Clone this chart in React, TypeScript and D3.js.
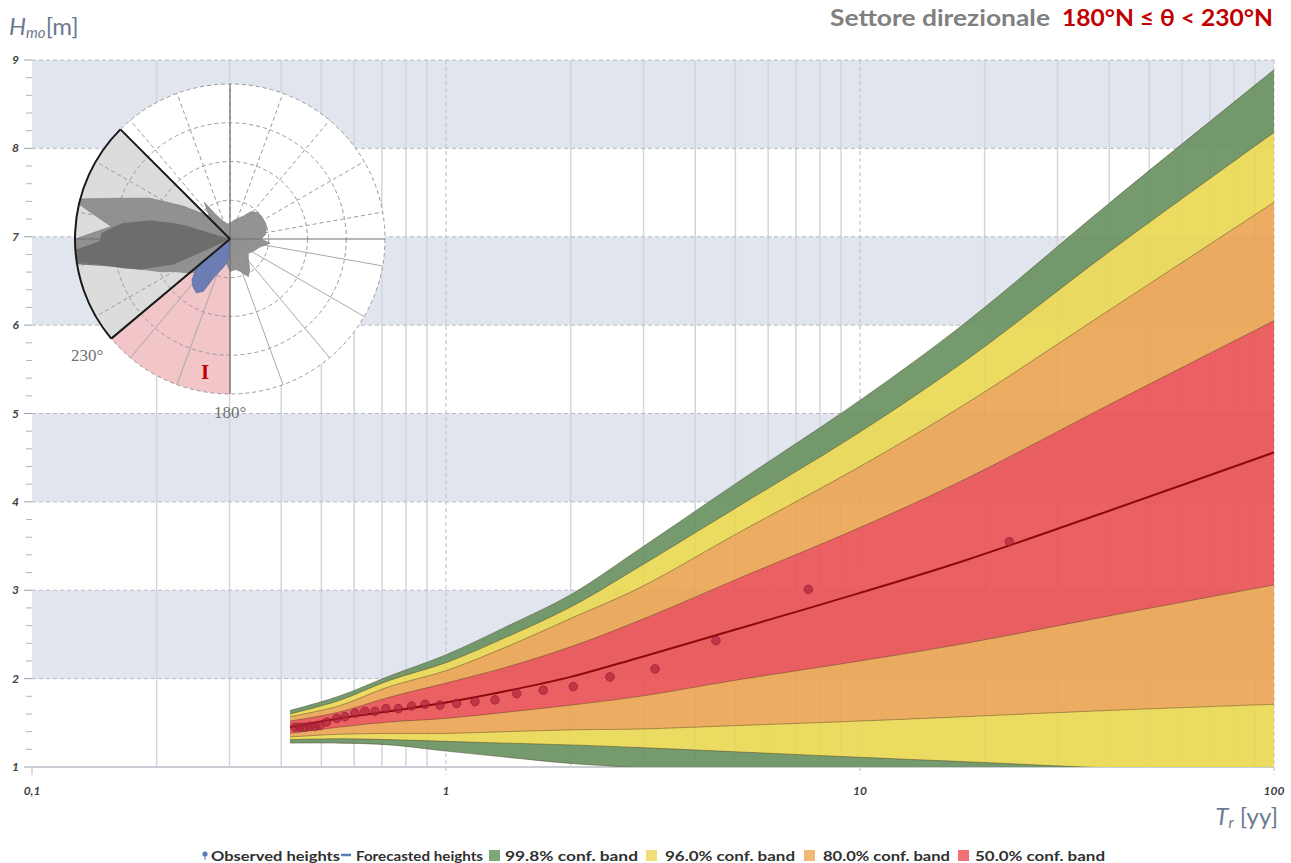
import React from 'react';
import * as d3 from 'd3';

// ---------- data ----------
const trGrid = [0.42, 0.55, 0.73, 1.0, 1.4, 2.0, 2.94, 5.13, 10, 18, 40, 100];
const upper998 = [1.64, 1.80, 2.03, 2.27, 2.59, 2.95, 3.47, 4.24, 5.15, 6.03, 7.38, 8.89];
const upper96 = [1.60, 1.75, 1.98, 2.18, 2.47, 2.81, 3.27, 3.96, 4.79, 5.60, 6.83, 8.18];
const upper80 = [1.57, 1.69, 1.91, 2.09, 2.36, 2.68, 3.03, 3.66, 4.40, 5.11, 6.17, 7.39];
const upper50 = [1.52, 1.62, 1.79, 1.95, 2.13, 2.36, 2.66, 3.14, 3.71, 4.26, 5.10, 6.05];
const median = [1.45, 1.55, 1.63, 1.73, 1.86, 2.02, 2.24, 2.57, 2.97, 3.34, 3.90, 4.56];
const lower50 = [1.38, 1.45, 1.51, 1.55, 1.62, 1.70, 1.80, 1.99, 2.20, 2.40, 2.71, 3.06];
const lower80 = [1.34, 1.37, 1.38, 1.38, 1.40, 1.42, 1.43, 1.47, 1.52, 1.57, 1.64, 1.71];
const lower96 = [1.31, 1.32, 1.31, 1.29, 1.27, 1.25, 1.22, 1.17, 1.11, 1.06, 0.99, 0.95];
const lower998 = [1.27, 1.27, 1.25, 1.18, 1.11, 1.04, 0.99, 0.90, 0.80, 0.72, 0.62, 0.50];

const obsTr = [0.432, 0.444, 0.456, 0.469, 0.483, 0.496, 0.515, 0.545, 0.570, 0.603, 0.637, 0.674, 0.716, 0.767,
  0.826, 0.890, 0.967, 1.061, 1.175, 1.313, 1.482, 1.718, 2.030, 2.489, 3.198, 4.488, 7.50, 22.94];
const obsH = [1.45, 1.45, 1.45, 1.46, 1.46, 1.47, 1.51, 1.55, 1.57, 1.61, 1.63, 1.63, 1.66, 1.66,
  1.69, 1.71, 1.70, 1.72, 1.74, 1.76, 1.83, 1.87, 1.91, 2.02, 2.11, 2.43, 3.01, 3.55];

const yTickValues = [1, 2, 3, 4, 5, 6, 7, 8, 9];
const xTickValues = [0.1, 1, 10, 100];
const xTickLabels = ['0,1', '1', '10', '100'];

const legendLabels = ['Observed heights', 'Forecasted heights', '99.8% conf. band', '96.0% conf. band', '80.0% conf. band', '50.0% conf. band'];

// wave rose (bearing in degrees, radius as fraction of rose radius)
const roseOuterDeg = [0, 10, 20, 30, 37, 47, 58, 71, 83, 90, 96, 105, 118, 128, 136, 148, 154, 162, 170, 180, 190, 200, 215, 225, 230,
  240, 245, 250, 255, 258, 262, 270, 276, 283, 285, 290, 297, 305, 311, 318, 325, 330, 340, 350];
const roseOuterR = [0.10, 0.12, 0.14, 0.17, 0.22, 0.25, 0.25, 0.25, 0.23, 0.20, 0.26, 0.20, 0.17, 0.15, 0.17, 0.24, 0.27, 0.22, 0.20, 0.21, 0.15, 0.18, 0.25, 0.30, 0.34,
  0.42, 0.50, 0.58, 0.72, 0.81, 1.0, 1.0, 0.77, 1.0, 1.0, 0.77, 0.58, 0.37, 0.26, 0.20, 0.29, 0.18, 0.12, 0.10];
const roseDarkDeg = [0, 287, 285.8, 283, 278.5, 272.7, 269, 266, 260.6, 257.5, 251.2, 245.6, 245];
const roseDarkR = [0, 0.30, 0.38, 0.53, 0.70, 0.83, 0.84, 1.0, 1.0, 0.81, 0.61, 0.40, 0.17];
const roseBlueDeg = [180, 183, 188, 195, 202, 207, 212, 218, 223, 228, 230, 230];
const roseBlueR = [0, 0.12, 0.16, 0.20, 0.26, 0.38, 0.41, 0.39, 0.36, 0.30, 0.22, 0];

const sectorFrom = 180;
const sectorTo = 230;
const greyTo = 315;

// ---------- layout ----------
const W = 1291;
const H = 863;
const L = 32, R = 1274, T = 60, B = 767;
const FONT = 'Lato, "Open Sans", "DejaVu Sans", sans-serif';

const x = d3.scaleLog().domain([0.1, 100]).range([L, R]);
const y = d3.scaleLinear().domain([1, 9]).range([B, T]);
const curve = d3.curveCatmullRom.alpha(0.5);

const bandPath = (lo: number[], hi: number[]) =>
  d3.area<number>()
    .x((t) => x(t))
    .y0((_, i) => y(lo[i]))
    .y1((_, i) => y(hi[i]))
    .curve(curve)(trGrid) as string;

const linePath = (arr: number[]) =>
  d3.line<number>()
    .x((t) => x(t))
    .y((_, i) => y(arr[i]))
    .curve(curve)(trGrid) as string;

const rad = (d: number) => (d * Math.PI) / 180;

export default function App() {
  const minorX: number[] = [];
  [0.1, 1, 10].forEach((d) => {
    for (let k = 2; k <= 9; k++) minorX.push(d * k);
  });
  const minorY: number[] = [];
  for (let v = 1; v < 9; v++) {
    for (let k = 1; k < 5; k++) minorY.push(v + k * 0.2);
  }

  // polar
  const cx = 230, cy = 239, PR = 155;
  const arc = d3.arc();
  const pinkPath = arc({ innerRadius: 0, outerRadius: PR, startAngle: rad(sectorFrom), endAngle: rad(sectorTo) } as any) as string;
  const greyPath = arc({ innerRadius: 0, outerRadius: PR, startAngle: rad(sectorTo), endAngle: rad(greyTo) } as any) as string;
  const greyArc = d3.arc()({ innerRadius: PR, outerRadius: PR, startAngle: rad(sectorTo), endAngle: rad(greyTo) } as any) as string;
  const radial = (deg: number[], rr: number[]) =>
    d3.lineRadial<number>()
      .angle((d) => rad(d))
      .radius((_, i) => rr[i] * PR)
      .curve(d3.curveLinearClosed)(deg) as string;
  const spokes: number[] = d3.range(0, 360, 20);
  const rings = [0.25, 0.5, 0.75, 1];
  const pt = (deg: number, r: number) => [cx + r * Math.sin(rad(deg)), cy - r * Math.cos(rad(deg))];

  const legendText = [
    { x: 211, w: 129 },
    { x: 356, w: 127 },
    { x: 505, w: 133 },
    { x: 665, w: 130 },
    { x: 823, w: 127 },
    { x: 975, w: 130 },
  ];
  const legendSquares = [
    { x: 489, c: '#7ea877' },
    { x: 646, c: '#f1e07a' },
    { x: 804, c: '#f0b978' },
    { x: 958, c: '#f07276' },
  ];

  const greyBands = [8, 6, 4, 2];

  return (
    <svg width={W} height={H} style={{ position: 'absolute', left: 0, top: 0, background: '#fff' }} fontFamily={FONT}>
      <defs>
        <clipPath id="plotClip">
          <rect x={L} y={T} width={R - L} height={B - T} />
        </clipPath>
      </defs>

      <rect x={L} y={T} width={R - L} height={B - T} fill="#ffffff" />
      {greyBands.map((v) => (
        <rect key={v} x={L} y={y(v + 1)} width={R - L} height={y(v) - y(v + 1)} fill="#e1e6ee" />
      ))}

      {minorX.map((v) => (
        <line key={'mx' + v} x1={x(v)} x2={x(v)} y1={T} y2={B} stroke="#d2d6dc" strokeWidth={1.5} />
      ))}
      {yTickValues.slice(1).map((v) => (
        <line key={'hy' + v} x1={L} x2={R} y1={y(v)} y2={y(v)} stroke="#b6babf" strokeWidth={1} strokeDasharray="4,3" />
      ))}
      {xTickValues.slice(1).map((v) => (
        <line key={'vx' + v} x1={x(v)} x2={x(v)} y1={T} y2={B + 8} stroke="#b8bcc2" strokeWidth={1} strokeDasharray="4,3" />
      ))}
      <line x1={x(0.1)} x2={x(0.1)} y1={B} y2={B + 8} stroke="#b8bcc2" strokeWidth={1} />

      {minorY.map((v, i) => (
        <line key={'my' + i} x1={26} x2={L} y1={y(v)} y2={y(v)} stroke="#b0b4ba" strokeWidth={1} />
      ))}
      {yTickValues.map((v) => (
        <g key={'yt' + v}>
          <line x1={24} x2={L} y1={y(v)} y2={y(v)} stroke="#9aa0a8" strokeWidth={1} />
          <text x={19} y={y(v) + 4} textAnchor="end" fontSize={12} fontWeight={700} fontStyle="italic" fill="#404040">{v}</text>
        </g>
      ))}

      <line x1={L} x2={R} y1={B} y2={B} stroke="#c9ced4" strokeWidth={2} />
      {xTickValues.map((v, i) => (
        <text key={'xt' + v} x={x(v)} y={795} textAnchor="middle" fontSize={12} fontWeight={700} fontStyle="italic" fill="#404040">{xTickLabels[i]}</text>
      ))}

      {/* polar inset */}
      <g transform={`translate(${cx},${cy})`}>
        <circle r={PR} fill="#ffffff" />
        <path d={pinkPath} fill="#f2c5c8" />
        <path d={greyPath} fill="#dcdcdc" />
        {rings.map((r) => (
          <circle key={'ring' + r} r={r * PR} fill="none" stroke="#9a9a9a" strokeWidth={1} strokeDasharray="4,3" />
        ))}
      </g>
      {spokes.map((a) => {
        const [x2, y2] = pt(a, PR);
        const solid = a >= 100 && a <= 220;
        return (
          <line key={'sp' + a} x1={cx} y1={cy} x2={x2} y2={y2} stroke={solid ? '#a8a8a8' : '#9a9a9a'} strokeWidth={1}
            strokeDasharray={solid ? undefined : '4,3'} />
        );
      })}
      <g transform={`translate(${cx},${cy})`}>
        <path d={radial(roseOuterDeg, roseOuterR)} fill="#8a8a8a" fillOpacity={0.92} stroke="#7a7a7a" strokeWidth={0.6} />
        <path d={radial(roseDarkDeg, roseDarkR)} fill="#666666" fillOpacity={0.85} />
        <path d={radial(roseBlueDeg, roseBlueR)} fill="#6b7db3" stroke="#5a6aa0" strokeWidth={0.6} />
      </g>
      <line x1={cx} x2={cx} y1={cy - PR} y2={cy + PR} stroke="#707070" strokeWidth={1.2} />
      <line x1={cx - PR} x2={cx + PR} y1={cy} y2={cy} stroke="#707070" strokeWidth={1.2} />
      {(() => {
        const [ax, ay] = pt(sectorTo, PR);
        const [bx, by] = pt(greyTo, PR);
        return (
          <g>
            <line x1={cx} y1={cy} x2={ax} y2={ay} stroke="#1a1a1a" strokeWidth={2} />
            <line x1={cx} y1={cy} x2={bx} y2={by} stroke="#1a1a1a" strokeWidth={2} />
            <path d={greyArc} transform={`translate(${cx},${cy})`} fill="none" stroke="#1a1a1a" strokeWidth={2} />
          </g>
        );
      })()}
      <text x={71} y={361} fontSize={17} fill="#707070" fontFamily='"Liberation Serif", "DejaVu Serif", serif'>230°</text>
      <text x={214} y={418} fontSize={17} fill="#707070" fontFamily='"Liberation Serif", "DejaVu Serif", serif'>180°</text>
      <text x={205} y={379} fontSize={21} fontWeight={700} fill="#c00000" textAnchor="middle" fontFamily='"Liberation Serif", "DejaVu Serif", serif'>I</text>

      {/* confidence bands */}
      <g clipPath="url(#plotClip)">
        <g opacity={0.92}>
          <path d={bandPath(lower998, upper998)} fill="#6a9261" />
          <path d={bandPath(lower96, upper96)} fill="#ead854" />
          <path d={bandPath(lower80, upper80)} fill="#eba554" />
          <path d={bandPath(lower50, upper50)} fill="#ea5456" />
        </g>
        {[upper998, upper96, upper80, upper50, lower50, lower80, lower96, lower998].map((arr, i) => (
          <path key={'edge' + i} d={linePath(arr)} fill="none" stroke="#4a3a20" strokeOpacity={0.55} strokeWidth={0.8} />
        ))}
        <path d={linePath(median)} fill="none" stroke="#8b0a0a" strokeWidth={2} />
        {obsTr.map((t, i) => (
          <circle key={'ob' + i} cx={x(t)} cy={y(obsH[i])} r={4.3} fill="#b0243c" fillOpacity={0.7} stroke="#8a1a2c" strokeOpacity={0.6} strokeWidth={1} />
        ))}
      </g>

      <text x={9} y={35} fill="#6b7a90" fontSize={24}>
        <tspan fontStyle="italic">H</tspan>
        <tspan fontStyle="italic" fontSize={15} dy={3}>mo</tspan>
        <tspan dy={-3}>[m]</tspan>
      </text>
      <text x={1278} y={825} fill="#6b7a90" fontSize={24} textAnchor="end">
        <tspan fontStyle="italic">T</tspan>
        <tspan fontStyle="italic" fontSize={15} dy={3}>r</tspan>
        <tspan dy={-3}> [yy]</tspan>
      </text>

      <text x={830} y={26} fontSize={22} fontWeight={700} fill="#808080" textLength={220} lengthAdjust="spacingAndGlyphs">Settore direzionale</text>
      <text x={1062} y={26} fontSize={22} fontWeight={700} fill="#c00000" textLength={211} lengthAdjust="spacingAndGlyphs">180°N ≤ θ &lt; 230°N</text>

      <circle cx={205} cy={854} r={2.6} fill="#5a7db5" />
      <line x1={205} x2={205} y1={856} y2={860} stroke="#5a7db5" strokeWidth={1} />
      <line x1={341} x2={351} y1={855} y2={855} stroke="#5a7db5" strokeWidth={2.5} />
      {legendSquares.map((s, i) => (
        <rect key={'ls' + i} x={s.x} y={850} width={11} height={11} fill={s.c} />
      ))}
      {legendLabels.map((lab, i) => (
        <text key={'lt' + i} x={legendText[i].x} y={861} fontSize={13} fontWeight={700} fill="#303030"
          textLength={legendText[i].w} lengthAdjust="spacingAndGlyphs">{lab}</text>
      ))}
    </svg>
  );
}
